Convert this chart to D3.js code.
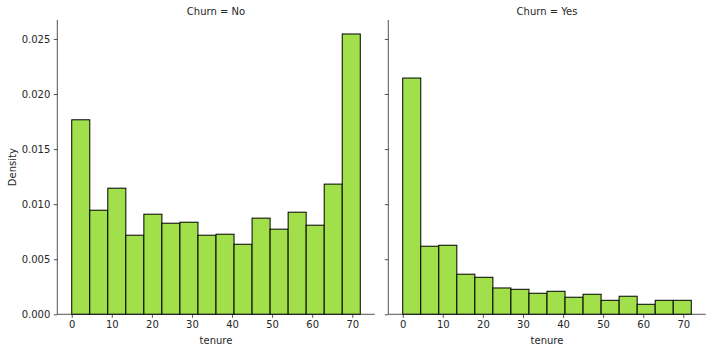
<!DOCTYPE html>
<html>
<head>
<meta charset="utf-8">
<script src="https://cdn.jsdelivr.net/npm/d3@7"></script>
<style>
	body { margin: 0; background: #fff; }
	text { font-family: "DejaVu Sans", sans-serif; fill: #262626; }
</style>
</head>
<body>
<div class="chart"></div>
<script>
// bins: 16 bins of width 4.5 from 0 to 72
const binEdges = [0, 4.5, 9, 13.5, 18, 22.5, 27, 31.5, 36, 40.5, 45, 49.5, 54, 58.5, 63, 67.5, 72];
const panels = ["Churn = No", "Churn = Yes"];
const densityNo = [0.01766, 0.00945, 0.01145, 0.00718, 0.00909, 0.00827, 0.00836, 0.00718,
	0.00727, 0.00636, 0.00873, 0.00773, 0.00927, 0.00809, 0.01182, 0.02545];
const densityYes = [0.02145, 0.00618, 0.00627, 0.00364, 0.00336, 0.00239, 0.00227, 0.00191,
	0.00209, 0.00155, 0.00182, 0.00127, 0.00164, 0.00091, 0.00127, 0.00127];
const xTicks = [0, 10, 20, 30, 40, 50, 60, 70];
const yTicks = [0, 0.005, 0.010, 0.015, 0.020, 0.025];

const svg = d3.select(".chart").append("svg")
	.attr("width", 712)
	.attr("height", 352);

const plotTop = 20, plotBottom = 314.3;
const panelX = [57.3, 388.3];
const panelW = 317.4;

const y = d3.scaleLinear().domain([0, 0.02672]).range([plotBottom, plotTop]);

[densityNo, densityYes].forEach((values, i) => {
	const x = d3.scaleLinear().domain([-3.6, 75.6]).range([panelX[i], panelX[i] + panelW]);
	const g = svg.append("g");

	const bins = values.map((v, k) => ({ x0: binEdges[k], x1: binEdges[k + 1], v }));
	g.selectAll(".bar")
		.data(bins).enter()
		.append("rect")
			.attr("class", "bar")
			.attr("x", (d) => x(d.x0))
			.attr("width", (d) => x(d.x1) - x(d.x0))
			.attr("y", (d) => y(d.v))
			.attr("height", (d) => y(0) - y(d.v))
			.attr("fill", "#a1e04b")
			.attr("stroke", "#000")
			.attr("stroke-width", 1);

	// axes
	const xAxis = g.append("g")
		.attr("transform", `translate(0, ${plotBottom})`)
		.call(d3.axisBottom(x).tickValues(xTicks).tickSize(3.5).tickPadding(3.5));
	const yAxis = g.append("g")
		.attr("transform", `translate(${panelX[i]}, 0)`)
		.call(d3.axisLeft(y).tickValues(yTicks).tickSize(3.5).tickPadding(3.5)
			.tickFormat(i === 0 ? d3.format(".3f") : () => ""));
	[xAxis, yAxis].forEach((a) => {
		a.selectAll("text").attr("font-size", 10).style("fill", "#262626")
			.attr("font-family", "DejaVu Sans, sans-serif");
		a.selectAll("line").attr("stroke", "#262626").attr("stroke-width", 0.8);
		a.select(".domain").attr("stroke", "#262626").attr("stroke-width", 0.8)
			.attr("d", a === xAxis
				? `M${panelX[i]},0H${panelX[i] + panelW}`
				: `M0,${plotBottom}V${plotTop}`);
	});

	g.append("text")
		.text(panels[i])
		.attr("x", panelX[i] + panelW / 2)
		.attr("y", 15)
		.attr("text-anchor", "middle")
		.attr("font-size", 10);

	g.append("text")
		.text("tenure")
		.attr("x", panelX[i] + panelW / 2)
		.attr("y", 344)
		.attr("text-anchor", "middle")
		.attr("font-size", 10);
});

svg.append("text")
	.text("Density")
	.attr("transform", `translate(16, ${(plotTop + plotBottom) / 2}) rotate(-90)`)
	.attr("text-anchor", "middle")
	.attr("font-size", 10);
</script>
</body>
</html>
